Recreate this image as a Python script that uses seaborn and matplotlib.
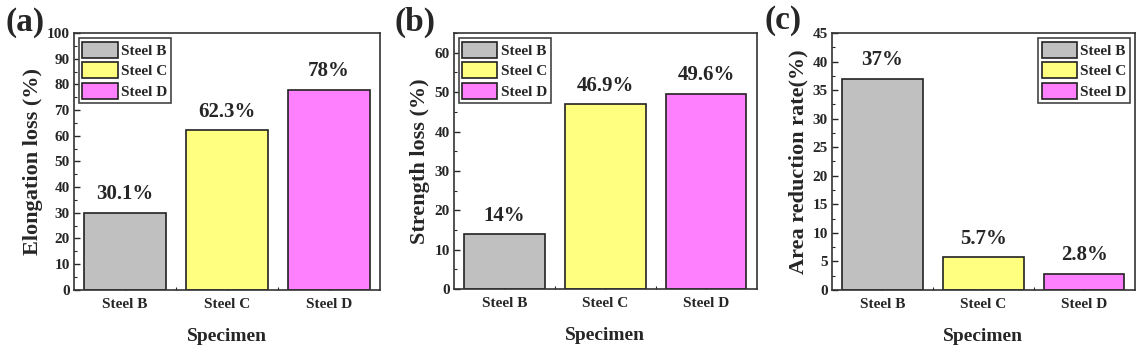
import pandas as pd
from matplotlib import pyplot as plt
from matplotlib.ticker import MultipleLocator, FixedLocator
import seaborn as sns

# data
specimens = ["Steel B", "Steel C", "Steel D"]
elongation_loss = [30.1, 62.3, 78.0]
strength_loss = [14.0, 46.9, 49.6]
area_reduction = [37.0, 5.7, 2.8]
elongation_text = ["30.1%", "62.3%", "78%"]
strength_text = ["14%", "46.9%", "49.6%"]
area_text = ["37%", "5.7%", "2.8%"]

colors = ["#c0c0c0", "#ffff80", "#ff80ff"]

sns.set_style("ticks")
plt.rcParams['font.family'] = ['Liberation Serif', 'DejaVu Serif']
plt.rcParams['font.weight'] = 'bold'
plt.rcParams['xtick.direction'] = 'in'
plt.rcParams['ytick.direction'] = 'in'

fig = plt.figure(figsize=(11.42, 3.6), dpi=100)
boxes = [[0.0648, 0.195, 0.268, 0.713],
         [0.3975, 0.197, 0.265, 0.711],
         [0.7285, 0.195, 0.265, 0.713]]
# panel tag centres in figure pixels
tag_pos = [(25, 22), (415, 22), (783, 20)]

panels = [
    ("(a)", elongation_loss, elongation_text, "Elongation loss (%)", 100, 10, "upper left"),
    ("(b)", strength_loss, strength_text, "Strength loss (%)", 65, 10, "upper left"),
    ("(c)", area_reduction, area_text, "Area reduction rate(%)", 45, 5, "upper right"),
]

for box, tp, (tag, vals, txt, ylab, ymax, step, loc) in zip(boxes, tag_pos, panels):
    ax = fig.add_axes(box)
    df = pd.DataFrame({"Specimen": specimens, "val": vals})
    sns.barplot(ax=ax, data=df, x="Specimen", y="val", hue="Specimen",
                palette=colors, dodge=False, width=0.8, saturation=1,
                edgecolor="#222222", linewidth=1.2, legend=True)
    for i, (v, t) in enumerate(zip(vals, txt)):
        ax.annotate(t, (i, v), xytext=(0, 6), textcoords="offset points",
                    ha="center", va="bottom", fontsize=15, fontweight="bold")
    ax.set_xlim(-0.5, 2.5)
    ax.set_ylim(0, ymax)
    ax.yaxis.set_major_locator(MultipleLocator(step))
    ax.yaxis.set_minor_locator(MultipleLocator(step / 2))
    ax.xaxis.set_minor_locator(FixedLocator([0.5, 1.5]))
    ax.tick_params(axis="y", which="major", length=4, width=1, labelsize=11, pad=3)
    ax.tick_params(axis="y", which="minor", length=2, width=0.8)
    ax.tick_params(axis="x", which="major", length=4, width=1, labelsize=11, pad=6)
    ax.tick_params(axis="x", which="minor", length=2, width=0.8)
    for lab in ax.get_xticklabels() + ax.get_yticklabels():
        lab.set_fontweight("bold")
    for sp in ax.spines.values():
        sp.set_visible(True)
        sp.set_linewidth(1.2)
        sp.set_color("#333333")
    ax.set_xlabel("Specimen", fontsize=14, fontweight="bold", labelpad=12)
    ax.set_ylabel(ylab, fontsize=16, fontweight="bold", labelpad=3)
    leg = ax.legend(loc=loc, fontsize=11, handlelength=2.3, handleheight=1.25,
                    labelspacing=0.28, handletextpad=0.2, borderpad=0.25,
                    borderaxespad=0.3, fancybox=False, edgecolor="#444444",
                    framealpha=1)
    leg.get_frame().set_linewidth(1.2)
    for t in leg.get_texts():
        t.set_fontweight("bold")
    fig.text(tp[0] / 1142, 1 - tp[1] / 360, tag, ha="center", va="center",
             fontsize=24, fontweight="bold")

plt.savefig("out.png", dpi=100)
